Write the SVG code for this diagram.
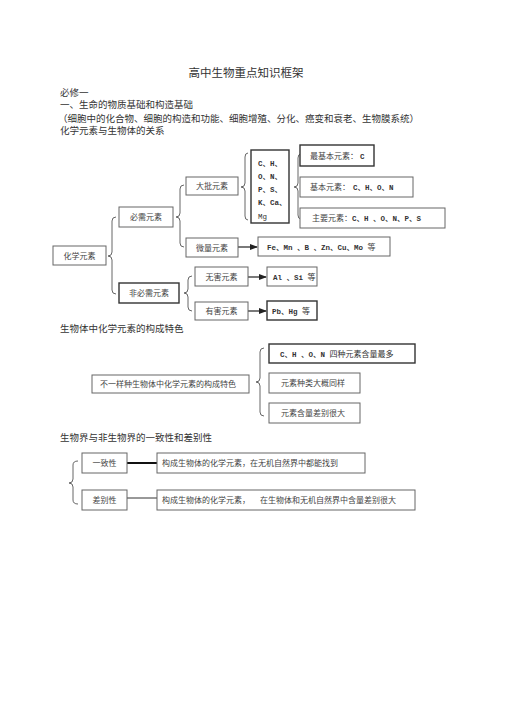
<svg xmlns="http://www.w3.org/2000/svg" width="505" height="714" viewBox="0 0 505 714">
<defs>
<style>
.bg{fill:#fff}
.box{fill:#fff;stroke:#666;stroke-width:1}
.bx2{fill:#fff;stroke:#333;stroke-width:1.4}
.t{font-family:"Liberation Serif","Noto Sans CJK SC",serif;fill:#444;font-size:8px}
.h{font-family:"Liberation Serif","Noto Sans CJK SC",serif;fill:#333;font-size:9.5px}
.m{font-family:"Liberation Mono","Noto Sans CJK SC",monospace;fill:#333;font-size:7.5px;font-weight:bold}
.c{text-anchor:middle}
.br{fill:none;stroke:#555;stroke-width:0.9}
.ln{stroke:#222;stroke-width:1.2;fill:none}
</style>
<marker id="ah" markerWidth="8" markerHeight="6" refX="7" refY="3" orient="auto" markerUnits="userSpaceOnUse">
<path d="M0,0 L8,3 L0,6 Z" fill="#222"/>
</marker>
</defs>
<rect class="bg" x="0" y="0" width="505" height="714"/>

<g id="headings">
<text class="h c" x="246" y="77" style="font-size:11.5px">高中生物重点知识框架</text>
<text class="h" x="60" y="95.5">必修一</text>
<text class="h" x="60" y="107.5">一、生命的物质基础和构造基础</text>
<text class="h" x="58" y="121.5">（细胞中的化合物、细胞的构造和功能、细胞增殖、分化、癌变和衰老、生物膜系统）</text>
<text class="h" x="60" y="133.5">化学元素与生物体的关系</text>
<text class="h" x="60" y="331.5">生物体中化学元素的构成特色</text>
<text class="h" x="60" y="440.5">生物界与非生物界的一致性和差别性</text>
</g>

<g id="connectors">
<path class="br" d="M116,217 Q112,217 112,221 L112,252 Q112,256 108,256 Q112,256 112,260 L112,290 Q112,294 116,294"/>
<path class="br" d="M184,185 Q180,185 180,189 L180,213 Q180,217 176,217 Q180,217 180,221 L180,243 Q180,247 184,247"/>
<path class="br" d="M192,276 Q188,276 188,280 L188,289 Q188,293 184,293 Q188,293 188,297 L188,307 Q188,311 192,311"/>
<path class="br" d="M248,153 Q245,153 245,157 L245,183 Q245,187 241,187 Q245,187 245,191 L245,216 Q245,220 248,220"/>
<path class="br" d="M301,154 Q298,154 298,158 L298,183 Q298,187 294,187 Q298,187 298,191 L298,215 Q298,219 301,219"/>
<path class="br" d="M264,348 Q260,348 260,352 L260,378 Q260,382 256,382 Q260,382 260,386 L260,412 Q260,416 264,416"/>
<path class="br" d="M78,461 Q73,461 73,465 L73,479 Q73,483 69,483 Q73,483 73,487 L73,500 Q73,504 78,504"/>
<line class="ln" x1="238" y1="247" x2="257" y2="247" marker-end="url(#ah)"/>
<line class="ln" x1="248" y1="277" x2="266" y2="277" marker-end="url(#ah)"/>
<line class="ln" x1="248" y1="311" x2="266" y2="311" marker-end="url(#ah)"/>
<line x1="127" y1="463" x2="157" y2="463" stroke="#111" stroke-width="2"/>
<line x1="127" y1="498" x2="157" y2="498" stroke="#333" stroke-width="1"/>
</g>

<g id="n-huaxue"><rect class="box" x="53" y="246" width="53" height="19"/><text class="t c" x="79.5" y="258.5">化学元素</text></g>
<g id="n-bixu"><rect class="box" x="119" y="207" width="54" height="20"/><text class="t c" x="146" y="220">必需元素</text></g>
<g id="n-feibixu"><rect class="bx2" x="119" y="283" width="60" height="20"/><text class="t c" x="149" y="296">非必需元素</text></g>
<g id="n-dapi"><rect class="box" x="186" y="177" width="52" height="18"/><text class="t c" x="212" y="189">大批元素</text></g>
<g id="n-weiliang"><rect class="box" x="186" y="238" width="52" height="19"/><text class="t c" x="212" y="250.5">微量元素</text></g>
<g id="n-fe"><rect class="box" x="258" y="237" width="132" height="19"/><text class="m" x="267" y="249.5">Fe、Mn 、B 、Zn、Cu、Mo <tspan class="t" style="font-weight:normal;font-size:8px">等</tspan></text></g>
<g id="n-wuhai"><rect class="box" x="195" y="267" width="53" height="19"/><text class="t c" x="221.5" y="279.5">无害元素</text></g>
<g id="n-youhai"><rect class="box" x="195" y="302" width="53" height="18"/><text class="t c" x="221.5" y="314">有害元素</text></g>
<g id="n-al"><rect class="box" x="267" y="267" width="50" height="19"/><text class="m" x="273" y="279.5">Al 、Si <tspan style="font-weight:normal;font-family:'Liberation Serif','Noto Sans CJK SC',serif;font-size:8px">等</tspan></text></g>
<g id="n-pb"><rect class="bx2" x="267" y="301" width="50" height="19"/><text class="m" x="272" y="313.5">Pb、Hg <tspan style="font-weight:normal;font-family:'Liberation Serif','Noto Sans CJK SC',serif;font-size:8px">等</tspan></text></g>
<g id="n-cho"><rect class="bx2" x="251" y="150" width="38" height="73"/>
<text class="m" x="258" y="166">C、H、</text>
<text class="m" x="258" y="179">O、N、</text>
<text class="m" x="258" y="192">P、S、</text>
<text class="m" x="258" y="205">K、Ca、</text>
<text class="m" x="258" y="219" style="font-weight:normal">Mg</text></g>
<g id="n-zuijiben"><rect class="bx2" x="300" y="145" width="74" height="21"/><text class="t" x="310" y="158.5">最基本元素：<tspan class="m" x="360">C</tspan></text></g>
<g id="n-jiben"><rect class="box" x="300" y="177" width="113" height="20"/><text class="t" x="310" y="190">基本元素：<tspan class="m" x="353">C、H、O、N</tspan></text></g>
<g id="n-zhuyao"><rect class="box" x="300" y="208" width="145" height="20"/><text class="t" x="312" y="221">主要元素：<tspan class="m" x="352">C、H 、O、N、P、S</tspan></text></g>

<g id="n-tese"><rect class="box" x="92" y="375" width="157" height="18"/><text class="t" x="100" y="387">不一样种生物体中化学元素的构成特色</text></g>
<g id="n-siz"><rect class="bx2" x="269" y="344" width="146" height="19"/><text class="m" x="280" y="356.5">C、H 、O、N <tspan style="font-weight:normal;font-family:'Liberation Serif','Noto Sans CJK SC',serif;font-size:8px">四种元素含量最多</tspan></text></g>
<g id="n-zhonglei"><rect class="box" x="269" y="373" width="91" height="20"/><text class="t" x="281" y="386">元素种类大概同样</text></g>
<g id="n-hanliang"><rect class="box" x="269" y="403" width="91" height="20"/><text class="t" x="281" y="416">元素含量差别很大</text></g>

<g id="n-yizhi"><rect class="box" x="82" y="453" width="45" height="20"/><text class="t c" x="104.5" y="466">一致性</text></g>
<g id="n-yizhi-d"><rect class="box" x="157" y="453" width="208" height="20"/><text class="t" x="162" y="466">构成生物体的化学元素，在无机自然界中都能找到</text></g>
<g id="n-chabie"><rect class="box" x="82" y="490" width="45" height="20"/><text class="t c" x="104.5" y="503">差别性</text></g>
<g id="n-chabie-d"><rect class="box" x="157" y="490" width="258" height="20"/><text class="t" x="162" y="503">构成生物体的化学元素，<tspan x="260">在生物体和无机自然界中含量差别很大</tspan></text></g>
</svg>
